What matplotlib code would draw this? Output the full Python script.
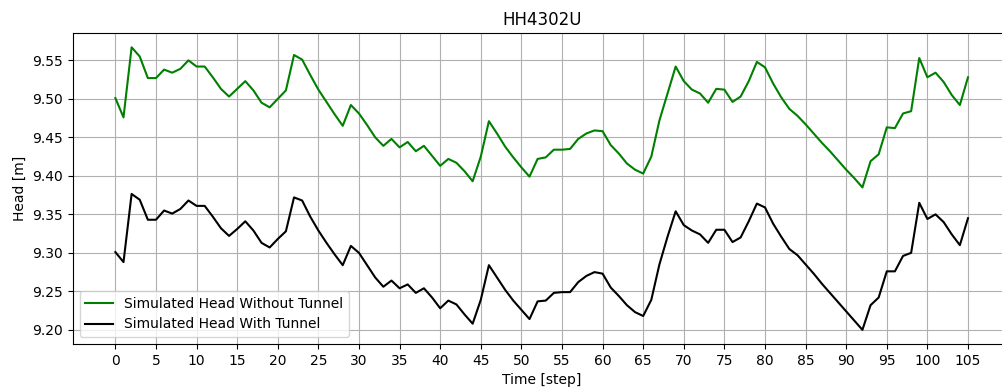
import numpy as np
import matplotlib
matplotlib.use("Agg")
import matplotlib.pyplot as plt

# Time steps and simulated heads
steps = np.arange(106)

head_without_tunnel = [
    9.501, 9.476, 9.567, 9.555, 9.527, 9.527, 9.538, 9.534, 9.539, 9.550,
    9.542, 9.542, 9.528, 9.513, 9.503, 9.513, 9.523, 9.511, 9.495, 9.489,
    9.500, 9.511, 9.557, 9.551, 9.531, 9.512, 9.496, 9.480, 9.465, 9.492,
    9.481, 9.466, 9.450, 9.439, 9.448, 9.437, 9.444, 9.432, 9.439, 9.426,
    9.413, 9.422, 9.417, 9.406, 9.393, 9.425, 9.471, 9.455, 9.438, 9.424,
    9.411, 9.399, 9.422, 9.424, 9.434, 9.434, 9.435, 9.448, 9.455, 9.459,
    9.458, 9.440, 9.429, 9.416, 9.408, 9.403, 9.425, 9.472, 9.507, 9.542,
    9.523, 9.512, 9.507, 9.495, 9.513, 9.512, 9.496, 9.503, 9.523, 9.548,
    9.541, 9.520, 9.502, 9.487, 9.478, 9.467, 9.455, 9.443, 9.432, 9.420,
    9.408, 9.397, 9.385, 9.419, 9.428, 9.463, 9.462, 9.481, 9.484, 9.553,
    9.528, 9.534, 9.522, 9.505, 9.492, 9.528,
]

head_with_tunnel = [
    9.301, 9.288, 9.3765, 9.369, 9.343, 9.343, 9.355, 9.351, 9.357, 9.368,
    9.361, 9.361, 9.347, 9.332, 9.322, 9.331, 9.341, 9.329, 9.313, 9.307,
    9.318, 9.328, 9.372, 9.368, 9.347, 9.329, 9.313, 9.298, 9.284, 9.309,
    9.300, 9.284, 9.268, 9.256, 9.264, 9.254, 9.259, 9.248, 9.254, 9.242,
    9.228, 9.238, 9.233, 9.220, 9.208, 9.239, 9.284, 9.268, 9.252, 9.238,
    9.226, 9.214, 9.237, 9.238, 9.248, 9.249, 9.249, 9.262, 9.270, 9.275,
    9.273, 9.255, 9.244, 9.232, 9.223, 9.218, 9.239, 9.285, 9.321, 9.354,
    9.336, 9.329, 9.324, 9.313, 9.330, 9.330, 9.314, 9.320, 9.341, 9.364,
    9.359, 9.338, 9.321, 9.305, 9.297, 9.285, 9.273, 9.260, 9.248, 9.236,
    9.224, 9.212, 9.200, 9.232, 9.242, 9.276, 9.276, 9.296, 9.300, 9.365,
    9.344, 9.350, 9.340, 9.324, 9.310, 9.345,
]

xticks = np.arange(0, 106, 5)

fig = plt.figure(figsize=(10.02, 3.9), dpi=100)
ax = fig.add_axes([0.0726, 0.118, 0.936, 0.797])

ax.plot(steps, head_without_tunnel, color="green", lw=1.5,
        label="Simulated Head Without Tunnel")
ax.plot(steps, head_with_tunnel, color="black", lw=1.5,
        label="Simulated Head With Tunnel")

ax.set_xticks(xticks)
ax.grid(True)
ax.set_title("HH4302U")
ax.set_xlabel("Time [step]")
ax.set_ylabel("Head [m]")
ax.legend(loc="lower left")

fig.savefig("out.png", dpi=100)
